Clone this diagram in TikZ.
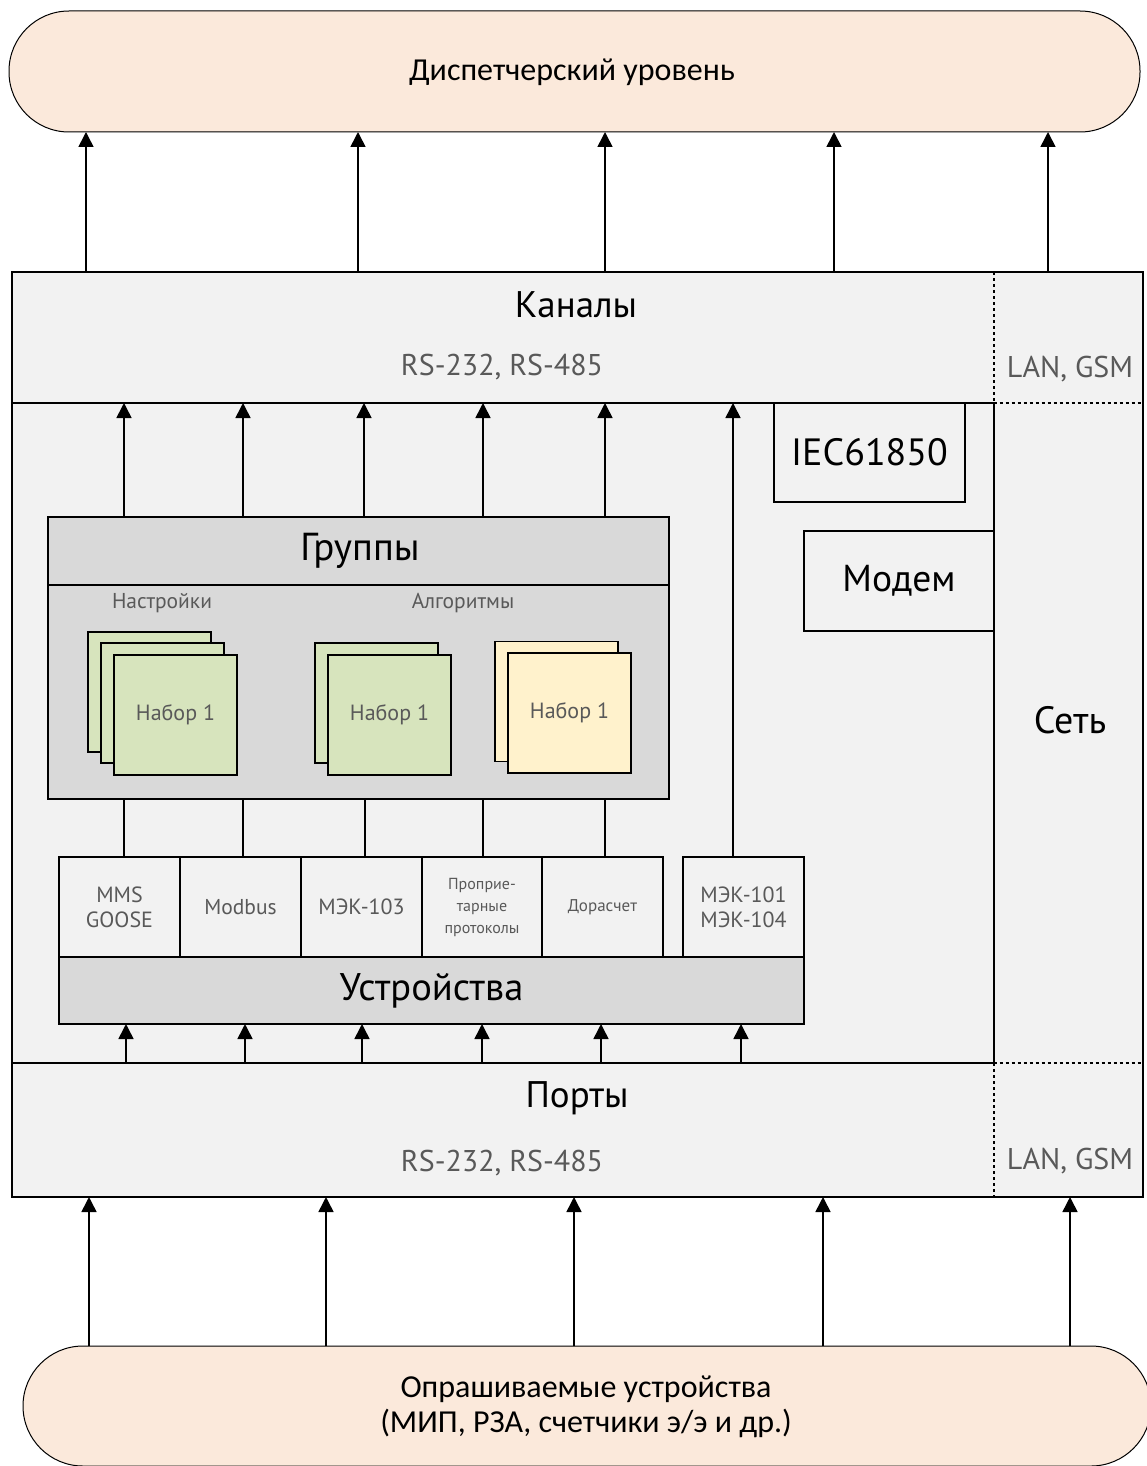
\documentclass[tikz,border=0pt]{standalone}
\usepackage{fontspec}
\setmainfont{PT Sans}
\newfontfamily\pillfont{Carlito}
\usetikzlibrary{arrows.meta}
\definecolor{peach}{HTML}{FBE9DB}
\definecolor{panel}{HTML}{F2F2F2}
\definecolor{darkpanel}{HTML}{D9D9D9}
\definecolor{setgreen}{HTML}{D7E4BD}
\definecolor{setyellow}{HTML}{FFF2CC}
\definecolor{txtgrey}{HTML}{595959}
\tikzset{
  pill/.style={draw, line width=1pt, fill=peach, rounded corners=60pt, inner sep=0pt, outer sep=0pt},
  area/.style={draw=none, inner sep=0pt, outer sep=0pt},
  boxed/.style={draw, line width=2pt, inner sep=0pt, outer sep=0pt},
  setbox/.style={draw, line width=1.6pt, inner sep=0pt, outer sep=0pt, minimum width=123pt, minimum height=120pt},
  protobox/.style={draw, line width=1.6pt, fill=panel, inner sep=0pt, outer sep=0pt, minimum height=100pt, text=txtgrey, align=center},
  conn/.style={line width=1.6pt},
  arr/.style={line width=1.6pt, -{Triangle[length=15pt,width=15pt]}},
  dotline/.style={line width=2pt, dash pattern=on 3pt off 3pt},
  lbl/.style={inner sep=0pt, outer sep=0pt, align=center},
}
\begin{document}
\begin{tikzpicture}[x=1pt,y=-1pt]
\useasboundingbox (0,0) rectangle (1147,1466);
% pills
\node[pill, minimum width=1131pt, minimum height=121pt] (disp) at (574.5,71.5) {};
\node[lbl, font=\pillfont\fontsize{32}{34}\selectfont] (disptxt) at (572,72) {Диспетчерский уровень};
\node[pill, minimum width=1128pt, minimum height=120pt] (polled) at (587,1406) {};
\node[lbl, font=\pillfont\fontsize{32}{35}\selectfont] (polledtxt) at (586,1407) {Опрашиваемые устройства\\(МИП, РЗА, счетчики э/э и др.)};
% outer frame
\fill[panel] (11.5,272) rectangle (1142.5,1197);
\node[area, minimum width=982pt, minimum height=131pt] (chan) at (502.5,337.5) {};
\node[area, minimum width=149pt, minimum height=131pt] (chanext) at (1068,337.5) {};
\node[area, minimum width=982pt, minimum height=660pt] (mid) at (502.5,733) {};
\node[area, minimum width=149pt, minimum height=660pt] (net) at (1068,733) {};
\node[area, minimum width=982pt, minimum height=134pt] (ports) at (502.5,1130) {};
\node[area, minimum width=149pt, minimum height=134pt] (portsext) at (1068,1130) {};
\draw[line width=2pt] (11.5,272) rectangle (1142.5,1197);
\draw[line width=2pt] (chan.south west) -- (chan.south east);
\draw[dotline] (chanext.south west) -- (chanext.south east);
\draw[dotline] (chan.north east) -- (chan.south east);
\draw[line width=2pt] (mid.north east) -- (mid.south east);
\draw[line width=2pt] (ports.north west) -- (ports.north east);
\draw[dotline] (portsext.north west) -- (portsext.north east);
\draw[dotline] (ports.north east) -- (ports.south east);
% texts of frame
\node[lbl, font=\fontsize{37}{40}\selectfont] (chantitle) at (576,305) {Каналы};
\node[lbl, font=\fontsize{30}{34}\selectfont, text=txtgrey] (chanrs) at (502,367) {RS-232, RS-485};
\node[lbl, font=\fontsize{30}{34}\selectfont, text=txtgrey] (chanlan) at (1070,369) {LAN, GSM};
\node[lbl, font=\fontsize{38}{42}\selectfont] (nettxt) at (1070,720) {Сеть};
\node[lbl, font=\fontsize{37}{40}\selectfont] (portstitle) at (577,1098) {Порты};
\node[lbl, font=\fontsize{30}{34}\selectfont, text=txtgrey] (portsrs) at (502,1163) {RS-232, RS-485};
\node[lbl, font=\fontsize{30}{34}\selectfont, text=txtgrey] (portslan) at (1070,1161) {LAN, GSM};
% IEC and modem
\node[boxed, minimum width=191pt, minimum height=99pt, font=\fontsize{38}{42}\selectfont] (iec) at (869.5,452.5) {IEC61850};
\node[boxed, minimum width=190pt, minimum height=100pt, font=\fontsize{37.5}{42}\selectfont] (modem) at (899,581) {Модем};
% groups
\node[boxed, fill=darkpanel, minimum width=621pt, minimum height=282pt] (groups) at (358.5,658) {};
\node[area, minimum width=621pt, minimum height=68pt] (grphead) at (358.5,551) {};
\draw[line width=2pt] (grphead.south west) -- (grphead.south east);
\node[lbl, font=\fontsize{39}{42}\selectfont] (grptitle) at (360,551) {Группы};
\node[lbl, font=\fontsize{21.5}{24}\selectfont, text=txtgrey] (settings) at (162,603) {Настройки};
\node[lbl, font=\fontsize{21.5}{24}\selectfont, text=txtgrey] (algos) at (463,603) {Алгоритмы};
% sets
\node[setbox, fill=setgreen] (s1a) at (149.5,692) {};
\node[setbox, fill=setgreen] (s1b) at (162.5,703) {};
\node[setbox, fill=setgreen, font=\fontsize{22}{26}\selectfont, text=txtgrey] (s1c) at (175.5,715) {Набор 1};
\node[setbox, fill=setgreen] (s2a) at (376.5,703) {};
\node[setbox, fill=setgreen, font=\fontsize{22}{26}\selectfont, text=txtgrey] (s2b) at (389.5,715) {Набор 1};
\node[setbox, fill=setyellow] (s3a) at (556.5,701.5) {};
\node[setbox, fill=setyellow, font=\fontsize{22}{26}\selectfont, text=txtgrey] (s3b) at (569.5,713) {Набор 1};
% protocol boxes
\node[protobox, minimum width=121pt, font=\fontsize{22}{25}\selectfont] (p1) at (119.5,907) {MMS\\GOOSE};
\node[protobox, minimum width=121pt, font=\fontsize{21.5}{25}\selectfont] (p2) at (240.5,907) {Modbus};
\node[protobox, minimum width=121pt, font=\fontsize{22}{25}\selectfont] (p3) at (361.5,907) {МЭК-103};
\node[protobox, minimum width=120pt, font=\fontsize{16}{22}\selectfont] (p4) at (482,907) {Проприе-\\тарные\\протоколы};
\node[protobox, minimum width=121pt, font=\fontsize{17}{22}\selectfont] (p5) at (602.5,907) {Дорасчет};
\node[protobox, minimum width=121pt, font=\fontsize{22}{25}\selectfont] (p6) at (743.5,907) {МЭК-101\\МЭК-104};
\node[boxed, fill=darkpanel, minimum width=745pt, minimum height=67pt, font=\fontsize{38.5}{42}\selectfont] (dev) at (431.5,990.5) {Устройства};
% x positions
\foreach \n/\x in {t1/86,t2/358,t3/605,t4/834,t5/1048,
                   b1/89,b2/326,b3/574,b4/823,b5/1070,
                   g1/124,g2/243,g3/364,g4/483,g5/605,
                   q1/124,q2/243,q3/365,q4/483,q5/605,
                   d1/126,d2/245,d3/362,d4/482,d5/601,d6/741,
                   m1/733}
  \coordinate (\n) at (\x,0);
% arrows to dispatcher
\foreach \c in {t1,t2,t3,t4,t5}
  \draw[arr] (chan.north -| \c) -- (disp.south -| \c);
% arrows from polled devices
\foreach \c in {b1,b2,b3,b4,b5}
  \draw[arr] (polled.north -| \c) -- (ports.south -| \c);
% groups to channels
\foreach \c in {g1,g2,g3,g4,g5}
  \draw[arr] (groups.north -| \c) -- (chan.south -| \c);
% protocols to groups
\foreach \c in {q1,q2,q3,q4,q5}
  \draw[conn] (p1.north -| \c) -- (groups.south -| \c);
% IEC-101/104 to channels
\draw[arr] (p6.north -| m1) -- (chan.south -| m1);
% ports to devices
\foreach \c in {d1,d2,d3,d4,d5,d6}
  \draw[arr] (ports.north -| \c) -- (dev.south -| \c);
\end{tikzpicture}
\end{document}
